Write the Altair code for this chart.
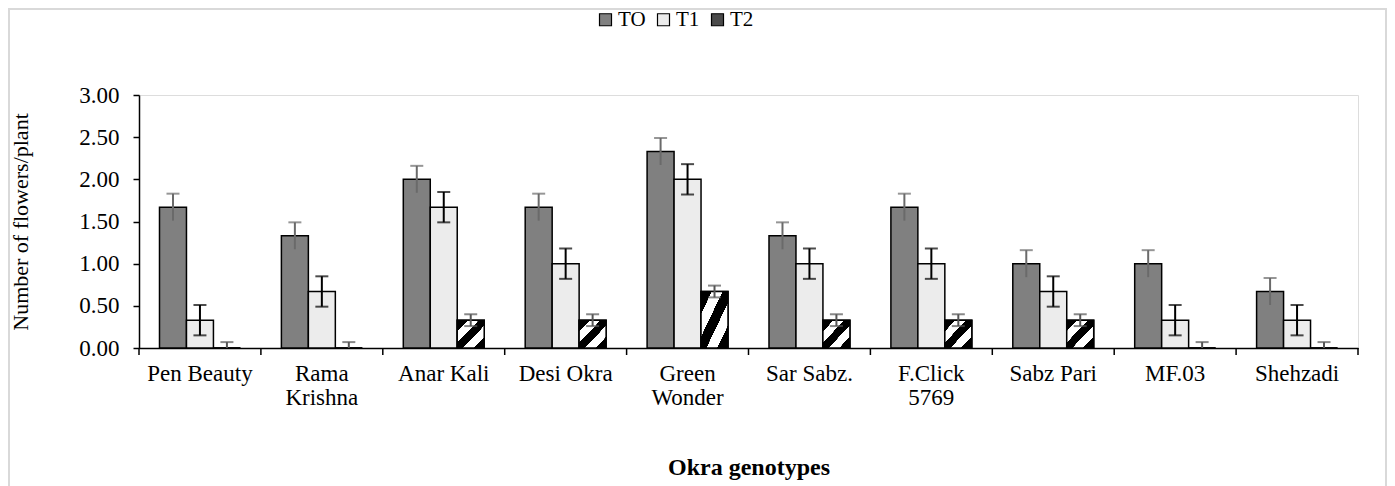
import altair as alt
import pandas as pd

genotypes = ["Pen Beauty", "Rama|Krishna", "Anar Kali", "Desi Okra", "Green|Wonder",
             "Sar Sabz.", "F.Click|5769", "Sabz Pari", "MF.03", "Shehzadi"]
series = ["TO", "T1", "T2"]
t0 = [1.67, 1.33, 2.00, 1.67, 2.33, 1.33, 1.67, 1.00, 1.00, 0.67]
t1 = [0.33, 0.67, 1.67, 1.00, 2.00, 1.00, 1.00, 0.67, 0.33, 0.33]
t2 = [0.00, 0.00, 0.33, 0.33, 0.67, 0.33, 0.33, 0.33, 0.00, 0.00]
err = {"TO": 0.16, "T1": 0.18, "T2": 0.07}
yticks = [0, 0.5, 1.0, 1.5, 2.0, 2.5, 3.0]

rows = []
for s, vals in zip(series, [t0, t1, t2]):
    for g, v in zip(genotypes, vals):
        rows.append({"genotype": g, "series": s, "value": v,
                     "lo": max(v - err[s], 0), "hi": v + err[s]})
df = pd.DataFrame(rows)

W, H = 1219, 253
FONT = "Liberation Serif"
ERRC = ["#6a6a6a", "#000000", "#555555"]

xscale = alt.Scale(domain=genotypes, paddingInner=0, paddingOuter=0)
xoff = alt.XOffset("series:N", sort=series, scale=alt.Scale(domain=series, paddingOuter=0.76, paddingInner=0))
yscale = alt.Scale(domain=[0, 3])

base = alt.Chart(df)

bars = base.mark_bar(stroke="black", strokeWidth=1.5).encode(
    x=alt.X("genotype:N", sort=genotypes, scale=xscale,
            axis=alt.Axis(title="Okra genotypes", ticks=False, labelAngle=0,
                          labelExpr="split(datum.label, '|')",
                          labelFontSize=23, labelFont=FONT, labelColor="black",
                          labelPadding=14, labelLineHeight=24,
                          titleFont=FONT, titleFontSize=24, titleFontWeight="bold",
                          titleColor="black", titlePadding=46,
                          domainColor="black", domainWidth=1.5)),
    xOffset=xoff,
    y=alt.Y("value:Q", scale=yscale,
            axis=alt.Axis(title="Number of flowers/plant", values=yticks, format=".2f",
                          grid=False, tickSize=6, tickColor="black", tickWidth=1.5,
                          domainColor="black", domainWidth=1.5,
                          labelFont=FONT, labelFontSize=23, labelColor="black",
                          labelPadding=14,
                          titleFont=FONT, titleFontSize=22, titleFontWeight="normal",
                          titleColor="black", titlePadding=46)),
    fill=alt.Fill("series:N", sort=series,
                  scale=alt.Scale(domain=series, range=["#808080", "#ececec", "#4a4a4a"]),
                  legend=alt.Legend(title=None, orient="none", direction="horizontal",
                                    legendX=456, legendY=-86,
                                    symbolType="square", symbolSize=144,
                                    symbolStrokeColor="black", symbolStrokeWidth=1.2,
                                    labelFont=FONT, labelFontSize=21, labelColor="black",
                                    labelOffset=2, columnPadding=7)),
)

stripes = []
n = 5
for i in range(n):
    c = "black" if i % 2 == 0 else "white"
    stripes.append(alt.GradientStop(offset=i / n, color=c))
    stripes.append(alt.GradientStop(offset=(i + 1) / n - 0.001, color=c))
grad = alt.LinearGradient(gradient="linear", stops=stripes, x1=0, y1=0, x2=1, y2=1)

hatch = base.transform_filter("datum.series == 'T2'").mark_bar(
    fill=grad, stroke="black", strokeWidth=1.5).encode(
    x=alt.X("genotype:N", sort=genotypes, scale=xscale),
    xOffset=xoff,
    y=alt.Y("value:Q", scale=yscale),
)

erule = base.mark_rule(strokeWidth=2).encode(
    x=alt.X("genotype:N", sort=genotypes, scale=xscale),
    xOffset=xoff,
    y=alt.Y("lo:Q", scale=yscale),
    y2="hi:Q",
    stroke=alt.Stroke("series:N", scale=alt.Scale(domain=series, range=ERRC), legend=None),
)
ecap = base.mark_tick(orient="horizontal", size=13, thickness=2).encode(
    x=alt.X("genotype:N", sort=genotypes, scale=xscale),
    xOffset=xoff,
    y=alt.Y("hi:Q", scale=yscale),
    color=alt.Color("series:N", scale=alt.Scale(domain=series, range=ERRC), legend=None),
)
ecap_lo = base.transform_filter("datum.value > 0 && datum.series != 'TO'").mark_tick(
    orient="horizontal", size=13, thickness=2).encode(
    x=alt.X("genotype:N", sort=genotypes, scale=xscale),
    xOffset=xoff,
    y=alt.Y("lo:Q", scale=yscale),
    color=alt.Color("series:N", scale=alt.Scale(domain=series, range=ERRC), legend=None),
)

tickdf = pd.DataFrame({"genotype": genotypes})
xticks = alt.Chart(tickdf).mark_rule(color="black", strokeWidth=1.5).encode(
    x=alt.X("genotype:N", sort=genotypes, scale=xscale, bandPosition=0),
    y=alt.value(H), y2=alt.value(H + 7),
)
xtick_end = alt.Chart(tickdf.tail(1)).mark_rule(color="black", strokeWidth=1.5).encode(
    x=alt.X("genotype:N", sort=genotypes, scale=xscale, bandPosition=1),
    y=alt.value(H), y2=alt.value(H + 7),
)

frame = alt.Chart(pd.DataFrame({"a": [0]})).mark_rect(
    fill="transparent", stroke="#d9d9d9", strokeWidth=2).encode(
    x=alt.value(-130), x2=alt.value(W + 28), y=alt.value(-86), y2=alt.value(H + 170))

chart = alt.layer(frame, bars, hatch, erule, ecap, ecap_lo, xticks, xtick_end).resolve_scale(
    stroke="independent", color="independent"
).properties(
    width=W, height=H,
    autosize=alt.AutoSizeParams(type="none"),
    padding={"left": 131, "top": 87, "right": 29, "bottom": 150},
).configure_view(stroke=None).configure(background="white")

chart.save("out.html", embed_options={"renderer": "svg", "actions": False})
